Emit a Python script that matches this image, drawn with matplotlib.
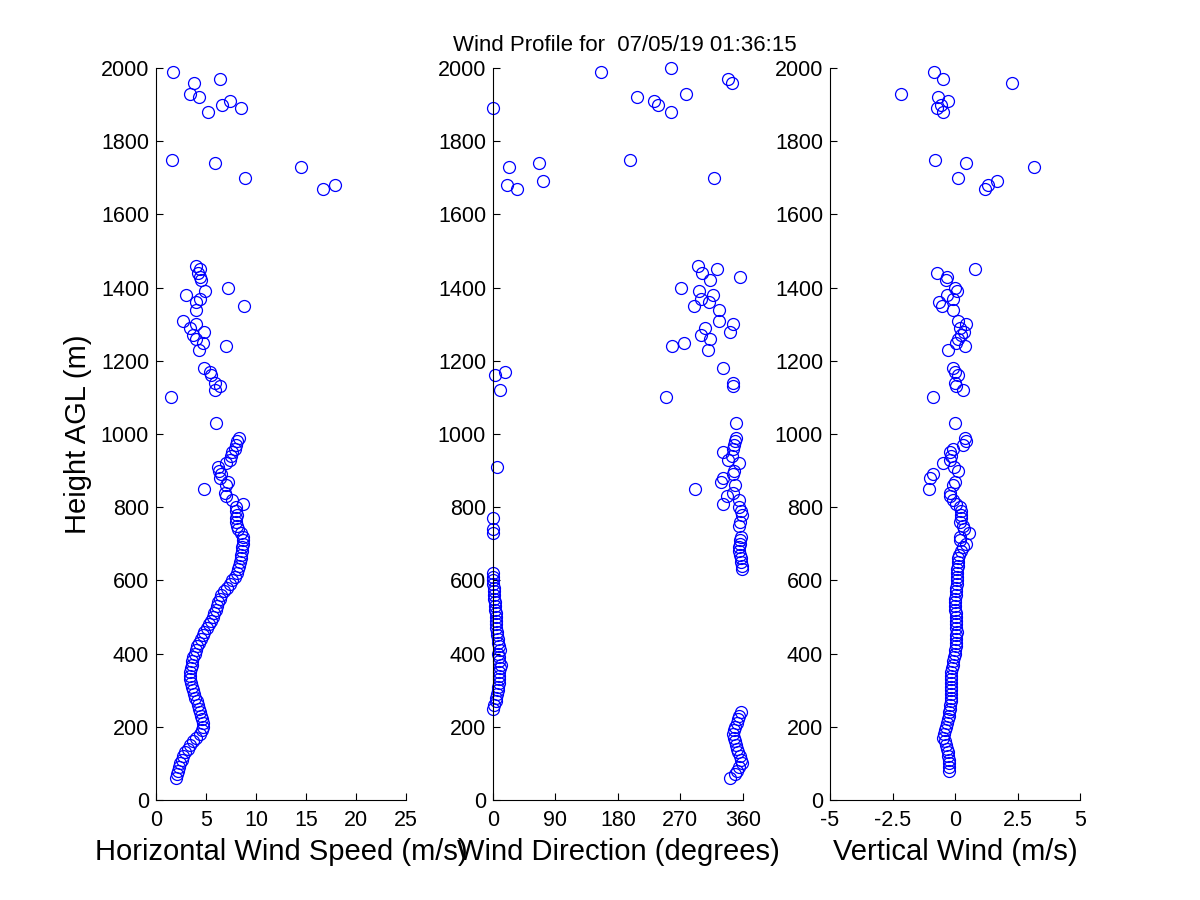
import numpy as np
import matplotlib
matplotlib.use("Agg")
import matplotlib.pyplot as plt

plt.rcParams['font.family'] = ['Liberation Sans', 'DejaVu Sans']

nan = np.nan

# heights (m AGL) of the retrieved gates
heights = [60, 70, 80, 90, 100, 110, 120, 130, 140, 150,
           160, 170, 180, 190, 200, 210, 220, 230, 240, 250,
           260, 270, 280, 290, 300, 310, 320, 330, 340, 350,
           360, 370, 380, 390, 400, 410, 420, 430, 440, 450,
           460, 470, 480, 490, 500, 510, 520, 530, 540, 550,
           560, 570, 580, 590, 600, 610, 620, 630, 640, 650,
           660, 670, 680, 690, 700, 710, 720, 730, 740, 750,
           760, 770, 780, 790, 800, 810, 820, 830, 840, 850,
           860, 870, 880, 890, 900, 910, 920, 930, 940, 950,
           960, 970, 980, 990, 1030,
           1100, 1120, 1130, 1140, 1160, 1170, 1180, 1230, 1240, 1250,
           1260, 1270, 1280, 1290, 1300, 1310, 1340, 1350, 1360, 1370,
           1380, 1390, 1400, 1420, 1430, 1440, 1450, 1460,
           1670, 1680, 1690, 1700, 1730, 1740, 1750, 1880, 1890, 1900,
           1910, 1920, 1930, 1960, 1970, 1990, 2000]

# horizontal wind speed (m/s)
speed = [2.0, 2.1, 2.2, 2.3, 2.45, 2.6, 2.75, 2.9, 3.2, 3.45,
         3.7, 4.05, 4.4, 4.6, 4.75, 4.7, 4.6, 4.5, 4.4, 4.3,
         4.2, 4.1, 3.95, 3.8, 3.7, 3.6, 3.5, 3.45, 3.4, 3.4,
         3.5, 3.6, 3.65, 3.75, 3.9, 4.0, 4.1, 4.3, 4.5, 4.7,
         4.85, 5.1, 5.3, 5.55, 5.7, 5.85, 6.0, 6.1, 6.25, 6.4,
         6.55, 6.85, 7.1, 7.4, 7.65, 7.9, 8.1, 8.25, 8.35, 8.45,
         8.5, 8.55, 8.6, 8.65, 8.7, 8.75, 8.75, 8.5, 8.25, 8.1,
         8.05, 8.05, 8.1, 8.0, 8.05, 8.7, 7.6, 7.05, 6.9, 4.8,
         7.0, 7.2, 6.4, 6.5, 6.3, 6.2, 7.0, 7.4, 7.5, 7.6,
         7.9, 8.0, 8.1, 8.3, 6.0,
         1.5, 5.9, 6.4, 5.9, 5.55, 5.4, 4.8, 4.35, 7.05, 4.75,
         4.0, 3.75, 4.8, 3.4, 4.0, 2.75, 4.0, 8.85, 4.05, 4.4,
         3.0, 4.9, 7.2, 4.55, 4.4, 4.25, 4.45, 4.0,
         16.7, 17.9, nan, 8.9, 14.5, 5.9, 1.6, 5.2, 8.5, 6.6,
         7.4, 4.3, 3.4, 3.8, 6.4, 1.7, nan]

# wind direction (degrees)
direction = [341, 348, 352, 355, 358, 357, 356, 353, 351, 350,
             349, 347, 346, 347, 349, 351, 353, 355, 357, 0.5,
             2, 4, 5, 6, 7, 7, 8, 8.5, 8.5, 9,
             10, 12, 9, 8, 7, 9.5, 8, 7, 7, 6,
             5.5, 5, 5, 4.5, 4, 4, 3.5, 3, 2.5, 2,
             1.5, 1.2, 1, 0.5, 0.3, 0, 0, 358, 358, 357,
             357, 356, 354, 355, 356, 356, 357, 0, 0.5, 355,
             356, 0, 358, 357, 354, 331, 355, 337, 346, 291,
             348, 328, 331, 345, 347, 6, 354, 339, 344, 332,
             346, 347, 349, 350, 350,
             249, 10, 345, 345, 3, 18, 331, 310, 258, 275,
             312, 299, 341, 306, 345, 325, 326, 289, 311, 299,
             317, 297, 271, 312, 356, 301, 323, 296,
             35, 20, 72, 318, 23, 66, 198, 257, 0, 238,
             232, 208, 278, 344, 339, 155, 257]

# vertical wind (m/s)
vertical = [nan, nan, -0.24, -0.24, -0.25, -0.26, -0.27, -0.28, -0.32, -0.36,
            -0.41, -0.48, -0.45, -0.42, -0.37, -0.33, -0.29, -0.26, -0.24, -0.21,
            -0.19, -0.17, -0.17, -0.16, -0.17, -0.17, -0.16, -0.15, -0.15, -0.15,
            -0.13, -0.1, -0.08, -0.05, -0.02, 0.0, 0.03, 0.04, 0.05, 0.05,
            0.06, 0.05, 0.05, 0.05, 0.04, 0.02, 0.0, 0.0, -0.01, 0.01,
            0.03, 0.04, 0.05, 0.07, 0.08, 0.08, 0.07, 0.08, 0.1, 0.12,
            0.12, 0.15, 0.22, 0.32, 0.45, 0.2, 0.19, 0.56, 0.35, 0.3,
            0.2, 0.22, 0.25, 0.22, 0.19, 0.05, -0.08, -0.21, -0.2, -1.04,
            -0.1, 0.0, -1.01, -0.88, 0.12, -0.05, -0.48, -0.2, -0.15, -0.21,
            -0.1, 0.32, 0.45, 0.4, 0.0,
            -0.87, 0.32, 0.05, 0.0, 0.12, 0.0, -0.07, -0.28, 0.39, 0.05,
            0.12, 0.25, 0.35, 0.19, 0.45, 0.1, -0.07, -0.53, -0.63, -0.07,
            -0.33, 0.09, -0.02, -0.36, -0.31, -0.72, 0.79, nan,
            1.21, 1.32, 1.69, 0.12, 3.16, 0.43, -0.81, -0.48, -0.72, -0.55,
            -0.28, -0.68, -2.16, 2.28, -0.48, -0.84, nan]

speed_ticks = [0, 5, 10, 15, 20, 25]
dir_ticks = [0, 90, 180, 270, 360]
vert_ticks = [-5, -2.5, 0, 2.5, 5]
vert_labels = ['-5', '-2.5', '0', '2.5', '5']
height_ticks = list(range(0, 2001, 200))

fig = plt.figure(figsize=(12, 9), dpi=100)

lefts = [0.13, 0.4108, 0.6917]
panels = [
    (speed, (0, 25), speed_ticks, None, 'Horizontal Wind Speed (m/s)'),
    (direction, (0, 360), dir_ticks, None, 'Wind Direction (degrees)'),
    (vertical, (-5, 5), vert_ticks, vert_labels, 'Vertical Wind (m/s)'),
]

axes = []
for left, (vals, xlim, xt, xtl, xlab) in zip(lefts, panels):
    ax = fig.add_axes([left, 0.1111, 0.2083, 0.8133])
    ax.plot(vals, heights, 'o', mfc='none', mec='#0000ff', ms=8.6,
            mew=0.9, clip_on=False)
    ax.set_xlim(*xlim)
    ax.set_ylim(0, 2000)
    ax.set_xticks(xt)
    if xtl is not None:
        ax.set_xticklabels(xtl)
    ax.set_yticks(height_ticks)
    ax.spines['top'].set_visible(False)
    ax.spines['right'].set_visible(False)
    for s in ('left', 'bottom'):
        ax.spines[s].set_linewidth(0.8)
    ax.tick_params(direction='in', length=5, width=0.8, labelsize=15.5)
    ax.tick_params(axis='x', pad=7)
    ax.tick_params(axis='y', pad=5)
    ax.set_xlabel(xlab, fontsize=21, labelpad=5)
    axes.append(ax)

axes[0].set_ylabel('Height AGL (m)', fontsize=21, labelpad=6)

fig.text(0.5204, 0.943, 'Wind Profile for  07/05/19 01:36:15',
         ha='center', va='baseline', fontsize=16)

fig.savefig('out.png', dpi=100)
